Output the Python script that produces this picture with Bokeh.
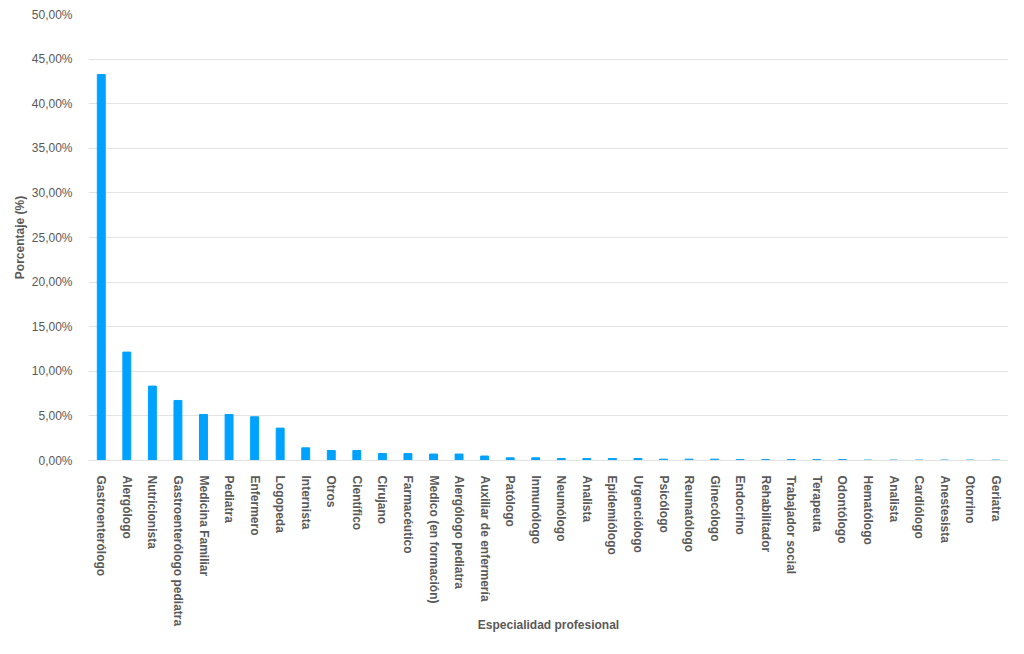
from bokeh.plotting import figure
from bokeh.models import Range1d, FixedTicker, CustomJSTickFormatter
from bokeh.embed import file_html
from bokeh.resources import INLINE

categories = [
    "Gastroenterólogo", "Alergólogo", "Nutricionista", "Gastroenterólogo pediatra",
    "Medicina Familiar", "Pediatra", "Enfermero", "Logopeda", "Internista", "Otros",
    "Científico", "Cirujano", "Farmacéutico", "Medico (en formación)", "Alergólogo pediatra",
    "Auxiliar de enfermería", "Patólogo", "Inmunólogo", "Neumólogo", "Analista",
    "Epidemiólogo", "Urgenciólogo", "Psicólogo", "Reumatólogo", "Ginecólogo", "Endocrino",
    "Rehabilitador", "Trabajador social", "Terapeuta", "Odontólogo", "Hematólogo",
    "Analista", "Cardiólogo", "Anestesista", "Otorrino", "Geriatra",
]
values = [
    43.27, 12.15, 8.34, 6.73, 5.16, 5.16, 4.90, 3.63, 1.42, 1.12,
    1.12, 0.78, 0.78, 0.72, 0.72, 0.50, 0.30, 0.30, 0.22, 0.22,
    0.22, 0.22, 0.15, 0.15, 0.15, 0.10, 0.10, 0.10, 0.10, 0.10,
    0.05, 0.05, 0.05, 0.05, 0.05, 0.05,
]
y_ticks = [0, 5, 10, 15, 20, 25, 30, 35, 40, 45, 50]

FONT = "Liberation Sans"
TXT = "#595959"

xs = list(range(len(categories)))

p = figure(width=1008, height=635, output_backend="svg", toolbar_location=None,
           x_range=Range1d(-0.5, len(categories) - 0.5), y_range=Range1d(0, 50),
           min_border_left=88, min_border_top=14, min_border_right=0, min_border_bottom=0)

p.vbar(x=xs, top=values, width=0.31, color="#00A2FF")

p.outline_line_color = None
p.xgrid.grid_line_color = None
p.ygrid.grid_line_color = "#e3e3e3"
p.ygrid.grid_line_width = 1

p.yaxis.ticker = FixedTicker(ticks=y_ticks)
p.yaxis.formatter = CustomJSTickFormatter(code="return tick.toFixed(2).replace('.', ',') + '%';")
p.yaxis.axis_line_color = None
p.yaxis.major_tick_line_color = None
p.yaxis.minor_tick_line_color = None
p.yaxis.major_label_standoff = 10
p.yaxis.major_label_text_font = FONT
p.yaxis.major_label_text_font_size = "12px"
p.yaxis.major_label_text_color = TXT
p.yaxis.axis_label = "Porcentaje (%)"
p.yaxis.axis_label_text_font = FONT
p.yaxis.axis_label_text_font_size = "12px"
p.yaxis.axis_label_text_font_style = "bold"
p.yaxis.axis_label_text_color = TXT
p.yaxis.axis_label_standoff = 2

p.xaxis.ticker = FixedTicker(ticks=xs)
p.xaxis.major_label_overrides = {i: c for i, c in enumerate(categories)}
p.xaxis.major_label_orientation = "vertical"
p.xaxis.axis_line_color = "#e3e3e3"
p.xaxis.major_tick_line_color = None
p.xaxis.minor_tick_line_color = None
p.xaxis.major_label_standoff = 9
p.xaxis.major_label_text_font = FONT
p.xaxis.major_label_text_font_size = "12px"
p.xaxis.major_label_text_font_style = "bold"
p.xaxis.major_label_text_color = TXT
p.xaxis.axis_label = "Especialidad profesional"
p.xaxis.axis_label_text_font = FONT
p.xaxis.axis_label_text_font_size = "12px"
p.xaxis.axis_label_text_font_style = "bold"
p.xaxis.axis_label_text_color = TXT
p.xaxis.axis_label_standoff = -11

open("out.html", "w").write(file_html(p, INLINE))
